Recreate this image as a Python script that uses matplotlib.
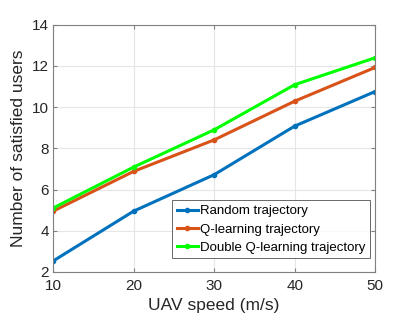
import numpy as np
import matplotlib.pyplot as plt

plt.rcParams['font.family'] = ['Liberation Sans', 'DejaVu Sans']

# data
speed = [10, 20, 30, 40, 50]
random_traj = [2.53, 4.95, 6.72, 9.08, 10.76]
q_traj = [4.95, 6.88, 8.41, 10.29, 11.93]
double_q_traj = [5.1, 7.09, 8.9, 11.09, 12.4]

fig = plt.figure(figsize=(4.15, 3.18), dpi=100)
ax = fig.add_axes([0.128, 0.145, 0.776, 0.777])

ax.plot(speed, random_traj, color='#0072BD', lw=2.2, marker='.', ms=6, label='Random trajectory')
ax.plot(speed, q_traj, color='#D95319', lw=2.2, marker='.', ms=6, label='Q-learning trajectory')
ax.plot(speed, double_q_traj, color='#00FF00', lw=2.2, marker='.', ms=6, label='Double Q-learning trajectory')

ax.set_xlim(10, 50)
ax.set_ylim(2, 14)
ax.set_xticks([10, 20, 30, 40, 50])
ax.set_yticks(np.arange(2, 15, 2))
ax.grid(True, color='#e6e6e6', lw=0.8)
ax.set_axisbelow(True)
for s in ax.spines.values():
    s.set_color('#808080')
    s.set_linewidth(0.8)
ax.tick_params(direction='in', length=3, color='#808080', labelsize=11, labelcolor='#262626', top=True, right=True)
ax.tick_params(axis='x', pad=5)
ax.tick_params(axis='y', pad=3)

ax.set_xlabel('UAV speed (m/s)', fontsize=12.5, color='#262626')
ax.set_ylabel('Number of satisfied users', fontsize=12.5, color='#262626')

leg = ax.legend(loc='lower right', bbox_to_anchor=(0.985, 0.055), fontsize=9.5, frameon=True,
                fancybox=False, edgecolor='#262626', handlelength=1.6, handletextpad=0.2,
                borderpad=0.35, labelspacing=0.45, borderaxespad=0)
leg.get_frame().set_linewidth(0.6)

fig.savefig('out.png', dpi=100)
